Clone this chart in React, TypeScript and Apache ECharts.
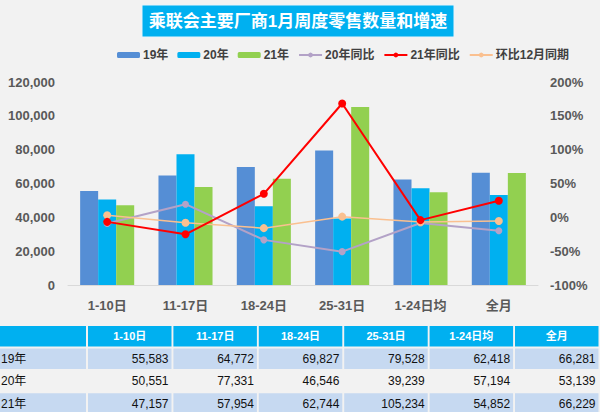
import React, { useEffect, useRef } from "react";
import * as echarts from "echarts";

const title = "乘联会主要厂商1月周度零售数量和增速";
const categories = ["1-10日", "11-17日", "18-24日", "25-31日", "1-24日均", "全月"];
const seriesNames = ["19年", "20年", "21年", "20年同比", "21年同比", "环比12月同期"];
const sales19 = [55583, 64772, 69827, 79528, 62418, 66281];
const sales20 = [50551, 77331, 46546, 39239, 57194, 53139];
const sales21 = [47157, 57954, 62744, 105234, 54852, 66229];
const yoy20 = [-9.1, 19.4, -33.3, -50.7, -8.4, -19.8];
const yoy21 = [-6.7, -25.1, 34.8, 168.2, -4.1, 24.6];
const vsDec = [3, -8, -16, 1, -7, -5.5];
const rowLabels = ["19年", "20年", "21年"];
const leftTicks = { min: 0, max: 120000, interval: 20000 };
const rightTicks = { min: -100, max: 200, interval: 50 };

const FONT = '"Liberation Sans", "Noto Sans CJK SC", sans-serif';
const C19 = "#558ED5";
const C20 = "#00B0F0";
const C21 = "#92D050";

function fmt(n: number) {
  return n.toLocaleString("en-US");
}

function buildTable() {
  const els: any[] = [];
  const rows = [sales19, sales20, sales21];
  const colX = (i: number) => 88 + i * 85.4;
  const colW = 83.5;
  const rowY = (r: number) => 326 + r * 22.4;
  const rowH = 20.6;
  els.push({ type: "rect", shape: { x: 0, y: rowY(0), width: 86, height: rowH }, style: { fill: "#00B0F0" } });
  categories.forEach((c, i) => {
    els.push({ type: "rect", shape: { x: colX(i), y: rowY(0), width: colW, height: rowH }, style: { fill: "#00B0F0" } });
    els.push({
      type: "text", x: colX(i) + colW / 2, y: rowY(0) + rowH / 2,
      style: { text: c, fill: "#fff", font: `bold 11px ${FONT}`, align: "center", verticalAlign: "middle" },
    });
  });
  rows.forEach((vals, r) => {
    const fill = r === 1 ? "#F2F2F2" : "#C6D9F1";
    const y = rowY(r + 1);
    els.push({ type: "rect", shape: { x: 0, y, width: 86, height: rowH }, style: { fill } });
    els.push({
      type: "text", x: 1, y: y + rowH / 2,
      style: { text: rowLabels[r], fill: "#111", font: `12px ${FONT}`, align: "left", verticalAlign: "middle" },
    });
    vals.forEach((v, i) => {
      els.push({ type: "rect", shape: { x: colX(i), y, width: colW, height: rowH }, style: { fill } });
      els.push({
        type: "text", x: colX(i) + colW - 3, y: y + rowH / 2,
        style: { text: fmt(v), fill: "#111", font: `12px ${FONT}`, align: "right", verticalAlign: "middle" },
      });
    });
  });
  return els;
}

export default function App() {
  const ref = useRef<HTMLDivElement>(null);
  useEffect(() => {
    if (!ref.current) return;
    const chart = echarts.init(ref.current, undefined, { renderer: "svg" });
    const lineCommon = (name: string, data: number[], color: string, width: number, size: number, z: number) => ({
      name, type: "line", yAxisIndex: 1, data, symbol: "circle", symbolSize: size, z,
      lineStyle: { color, width }, itemStyle: { color },
    });
    chart.setOption({
      animation: false,
      backgroundColor: "#F2F2F2",
      textStyle: { fontFamily: FONT },
      grid: { left: 68, right: 62, top: 82, bottom: 127 },
      legend: {
        top: 44, left: 112, width: 486, itemGap: 9, itemWidth: 23, itemHeight: 6,
        textStyle: { fontFamily: FONT, fontWeight: "bold", fontSize: 12, color: "#404040", padding: [0, 0, 0, -2] },
        data: seriesNames,
      },
      xAxis: {
        type: "category", data: categories,
        axisLine: { lineStyle: { color: "#D9D9D9" } },
        axisTick: { show: false },
        axisLabel: { color: "#595959", fontWeight: "bold", fontSize: 13, margin: 14, fontFamily: FONT },
      },
      yAxis: [
        {
          type: "value", ...leftTicks, splitLine: { show: false }, axisLine: { show: false }, axisTick: { show: false },
          axisLabel: { color: "#595959", fontWeight: "bold", fontSize: 13, margin: 13, fontFamily: FONT, formatter: (v: number) => fmt(v) },
        },
        {
          type: "value", ...rightTicks, splitLine: { show: false }, axisLine: { show: false }, axisTick: { show: false },
          axisLabel: { color: "#595959", fontWeight: "bold", fontSize: 13, margin: 12, fontFamily: FONT, formatter: "{value}%" },
        },
      ],
      series: [
        { name: "19年", type: "bar", data: sales19, barGap: "0%", barCategoryGap: "31%", itemStyle: { color: C19 } },
        { name: "20年", type: "bar", data: sales20, itemStyle: { color: C20 } },
        { name: "21年", type: "bar", data: sales21, itemStyle: { color: C21 } },
        lineCommon("20年同比", yoy20, "#B3A2C7", 2, 7, 3),
        lineCommon("21年同比", yoy21, "#FF0000", 2, 8, 5),
        lineCommon("环比12月同期", vsDec, "#FAC090", 1.5, 8, 4),
      ],
      graphic: [
        { type: "rect", shape: { x: 142, y: 5, width: 312, height: 32 }, style: { fill: "#00B0F0", stroke: "#E8F4FB", lineWidth: 1 } },
        {
          type: "text", x: 298, y: 21,
          style: { text: title, fill: "#fff", font: `bold 17px ${FONT}`, align: "center", verticalAlign: "middle" },
        },
        ...buildTable(),
      ],
    });
    return () => chart.dispose();
  }, []);
  return <div ref={ref} style={{ position: "absolute", left: 0, top: 0, width: 600, height: 412 }} />;
}
